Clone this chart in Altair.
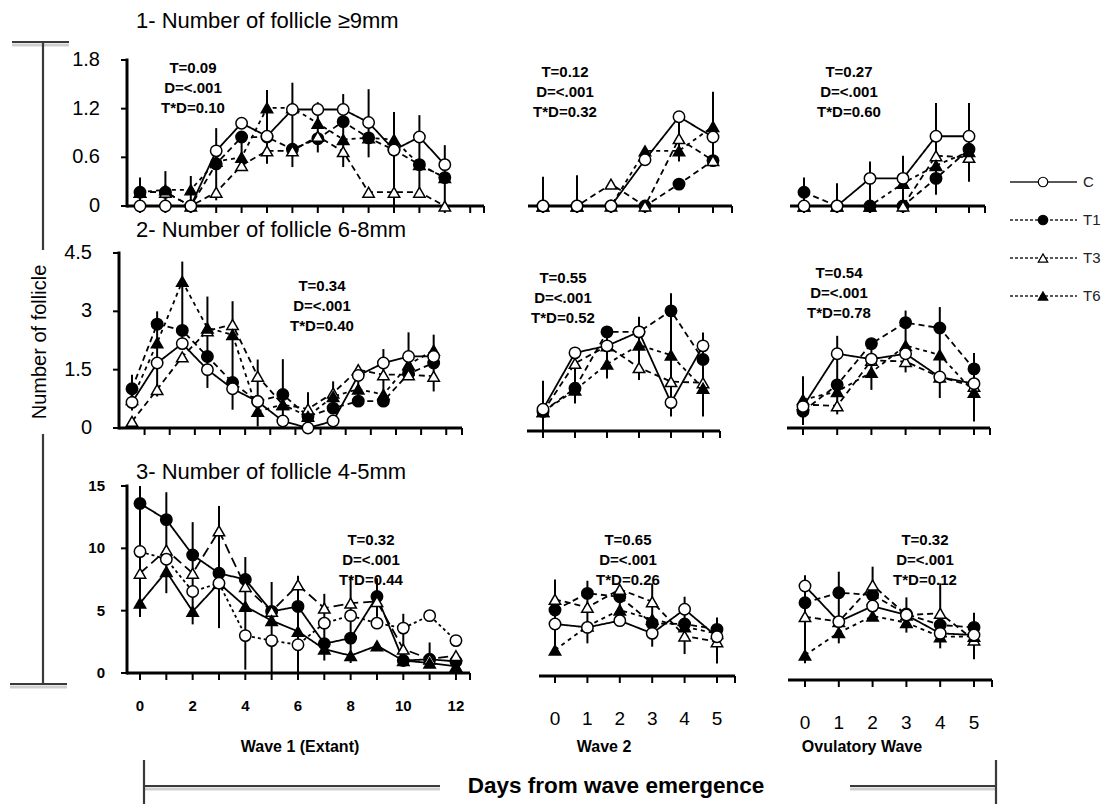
import altair as alt
import pandas as pd

FONT = "Liberation Sans"
W, H = 1105, 804

SERIES = ["C", "T1", "T3", "T6"]
DAYS_W1 = list(range(13))
DAYS_W = list(range(6))

# tick labels
yticks_ge9 = ["0", "0.6", "1.2", "1.8"]
yticks_68 = ["0", "1.5", "3", "4.5"]
yticks_45 = ["0", "5", "10", "15"]
xlabels_w1 = [0, 2, 4, 6, 8, 10, 12]
xlabels_w = [0, 1, 2, 3, 4, 5]

# ---------- 1- Number of follicle >= 9 mm ----------
r1_w1_C = [0, 0, 0, 0.68, 1.02, 0.86, 1.19, 1.19, 1.19, 1.03, 0.69, 0.85, 0.51]
r1_w1_T1 = [0.17, 0.17, 0, 0.52, 0.85, 0.85, 0.70, 0.83, 1.04, 0.84, 0.69, 0.51, 0.35]
r1_w1_T3 = [0.17, 0.17, 0, 0.17, 0.50, 0.68, 0.68, 0.86, 0.67, 0.17, 0.17, 0.17, 0]
r1_w1_T6 = [0.17, 0.20, 0.20, 0.55, 0.60, 1.21, 1.21, 1.02, 0.82, 0.84, 0.82, 0.51, 0.35]
r1_w1_lo = [0, 0, 0, 0.07, 0.47, 0.52, 0.48, 0.66, 0.48, 0.60, 0, 0.17, 0]
r1_w1_hi = [0.35, 0.43, 0.37, 0.96, 0.90, 1.43, 1.52, 1.28, 1.38, 1.44, 1.16, 1.12, 0.75]

r1_w2_C = [0, 0, 0, 0.57, 1.10, 0.85]
r1_w2_T1 = [0, 0, 0, 0, 0.27, 0.56]
r1_w2_T3 = [0, 0, 0.27, 0, 0.83, 0.56]
r1_w2_T6 = [0, 0, 0, 0.68, 0.68, 0.98]
r1_w2_lo = [0, 0, 0, 0, 0.55, 0.56]
r1_w2_hi = [0.36, 0.38, 0, 0, 1.12, 1.41]

r1_ov_C = [0, 0, 0.34, 0.34, 0.86, 0.86]
r1_ov_T1 = [0.17, 0, 0, 0, 0.34, 0.70]
r1_ov_T3 = [0, 0, 0, 0, 0.62, 0.60]
r1_ov_T6 = [0, 0, 0, 0.28, 0.50, 0.67]
r1_ov_lo = [0, 0, 0, 0, 0.14, 0.30]
r1_ov_hi = [0.35, 0.28, 0.55, 0.62, 1.27, 1.27]

# ---------- 2- Number of follicle 6-8 mm ----------
r2_w1_C = [0.66, 1.67, 2.17, 1.50, 1.01, 0.68, 0.18, 0, 0.18, 1.35, 1.67, 1.84, 1.84]
r2_w1_T1 = [1.01, 2.67, 2.51, 1.84, 1.17, 0.68, 0.86, 0.30, 0.51, 0.69, 0.69, 1.40, 1.67]
r2_w1_T3 = [0.17, 0.99, 1.83, 2.50, 2.66, 1.33, 0.60, 0.49, 0.90, 1.50, 1.37, 1.37, 1.33]
r2_w1_T6 = [0.73, 2.19, 3.77, 2.57, 2.40, 0.43, 0.60, 0.30, 0.81, 1.00, 0.86, 1.63, 2.00]
r2_w1_lo = [0.45, 0.81, 2.20, 1.03, 0.47, 0.04, 0.13, 0, 0.47, 0.80, 0.73, 1.33, 0.94]
r2_w1_hi = [1.37, 3.00, 4.28, 3.38, 3.26, 1.76, 1.77, 0.92, 1.20, 1.60, 2.03, 2.46, 2.40]

r2_w2_C = [0.56, 2.01, 2.19, 2.55, 0.73, 2.19]
r2_w2_T1 = [0.50, 1.10, 2.55, 2.55, 3.09, 1.84]
r2_w2_T3 = [0.50, 1.74, 2.19, 1.63, 1.27, 1.24]
r2_w2_T6 = [0.50, 1.05, 1.72, 2.21, 1.95, 1.10]
r2_w2_lo = [0, 0.71, 1.35, 1.31, 0.37, 0.37]
r2_w2_hi = [1.29, 2.10, 2.60, 2.94, 3.54, 2.53]

r2_ov_C = [0.55, 1.91, 1.77, 1.91, 1.31, 1.14]
r2_ov_T1 = [0.43, 1.11, 2.17, 2.71, 2.57, 1.52]
r2_ov_T3 = [0.60, 0.57, 1.74, 1.71, 1.31, 1.07]
r2_ov_T6 = [0.73, 0.94, 1.43, 2.12, 1.88, 0.92]
r2_ov_lo = [0.08, 0.35, 0.98, 1.43, 0.77, 0.17]
r2_ov_hi = [1.33, 2.37, 2.27, 3.02, 3.11, 1.93]

# ---------- 3- Number of follicle 4-5 mm ----------
r3_w1_C = [9.74, 9.13, 6.54, 7.20, 3.00, 2.60, 2.27, 4.00, 4.60, 4.00, 3.60, 4.60, 2.60]
r3_w1_T1 = [13.6, 12.3, 9.47, 8.00, 7.50, 4.94, 5.34, 2.35, 2.80, 6.14, 1.00, 1.10, 0.93]
r3_w1_T3 = [8.00, 9.87, 8.00, 11.4, 6.94, 4.94, 7.07, 5.20, 5.60, 5.74, 1.92, 1.12, 1.39]
r3_w1_T6 = [5.60, 8.14, 4.94, 7.20, 5.34, 4.20, 3.34, 1.92, 1.39, 2.19, 1.00, 0.80, 0.53]
r3_w1_lo = [4.5, 6.4, 3.9, 3.6, 0.27, 0, 0, 1.0, 0.8, 4.5, 0.8, 0.8, 0.5]
r3_w1_hi = [15.0, 14.5, 12.1, 13.4, 9.3, 7.3, 7.8, 6.35, 7.74, 7.6, 4.75, 2.45, 1.6]

r3_w2_C = [4.17, 3.90, 4.44, 3.42, 5.35, 3.15]
r3_w2_T1 = [5.29, 6.63, 6.36, 4.22, 4.17, 3.74]
r3_w2_T3 = [6.15, 5.51, 6.95, 5.96, 3.21, 2.75]
r3_w2_T6 = [2.08, 4.00, 5.29, 4.55, 3.95, 3.40]
r3_w2_lo = [1.70, 2.62, 4.20, 2.35, 1.76, 1.00]
r3_w2_hi = [7.75, 7.64, 7.20, 7.43, 6.36, 4.70]

r3_ov_C = [7.54, 4.68, 5.93, 5.21, 3.74, 3.61]
r3_ov_T1 = [6.20, 7.00, 6.82, 5.29, 4.41, 4.22]
r3_ov_T3 = [5.08, 4.68, 7.62, 5.21, 5.35, 3.21]
r3_ov_T6 = [2.00, 3.80, 5.13, 4.60, 3.47, 3.50]
r3_ov_lo = [1.34, 2.94, 5.35, 3.80, 2.54, 1.66]
r3_ov_hi = [8.40, 8.69, 9.09, 6.63, 7.75, 5.40]

# P-values printed in each panel (treatment, day, interaction)
stat_T = ["0.09", "0.12", "0.27", "0.34", "0.55", "0.54", "0.32", "0.65", "0.32"]
stat_D = ["<.001"] * 9
stat_TD = ["0.10", "0.32", "0.60", "0.40", "0.52", "0.78", "0.44", "0.26", "0.12"]

row_titles = ["1- Number of follicle \u22659mm", "2- Number of follicle 6-8mm",
              "3- Number of follicle 4-5mm"]

# ---------- layout of each panel (pixels) ----------
# axis: start/end of the x axis line, day0: pixel of day 0, step: pixels per day
LAYOUT = [
    dict(axis=(127, 484), day0=140, step=25.4, yr=(206, 60), yt=yticks_ge9, yaxis=True,
         xticks=list(range(14)), stats=(193, 68)),
    dict(axis=(528, 732), day0=543, step=34.0, yr=(206, 60), yt=yticks_ge9,
         xticks=list(range(6)), stats=(565, 72)),
    dict(axis=(790, 985), day0=804, step=33.0, yr=(206, 60), yt=yticks_ge9,
         xticks=list(range(6)), stats=(849, 72)),
    dict(axis=(119, 462), day0=132, step=25.14, yr=(428, 253), yt=yticks_68, yaxis=True,
         xticks=[k + 0.5 for k in range(13)], stats=(322, 286)),
    dict(axis=(527, 720), day0=543, step=32.0, yr=(431, 256), yt=yticks_68,
         xticks=list(range(6)), stats=(563, 278)),
    dict(axis=(787, 990), day0=803, step=34.2, yr=(428, 253), yt=yticks_68,
         xticks=list(range(6)), stats=(839, 273)),
    dict(axis=(127, 470), day0=140, step=26.33, yr=(673, 486), yt=yticks_45, yaxis=True,
         xticks=list(range(13)), stats=(371, 540), xlab=xlabels_w1),
    dict(axis=(539, 735), day0=555, step=32.4, yr=(676, 489), yt=yticks_45,
         xticks=list(range(6)), stats=(628, 540), xlab=xlabels_w),
    dict(axis=(788, 992), day0=805, step=33.8, yr=(680, 493), yt=yticks_45,
         xticks=list(range(6)), stats=(925, 540), xlab=xlabels_w),
]

PANEL_DATA = [
    (DAYS_W1, [r1_w1_C, r1_w1_T1, r1_w1_T3, r1_w1_T6], r1_w1_lo, r1_w1_hi),
    (DAYS_W, [r1_w2_C, r1_w2_T1, r1_w2_T3, r1_w2_T6], r1_w2_lo, r1_w2_hi),
    (DAYS_W, [r1_ov_C, r1_ov_T1, r1_ov_T3, r1_ov_T6], r1_ov_lo, r1_ov_hi),
    (DAYS_W1, [r2_w1_C, r2_w1_T1, r2_w1_T3, r2_w1_T6], r2_w1_lo, r2_w1_hi),
    (DAYS_W, [r2_w2_C, r2_w2_T1, r2_w2_T3, r2_w2_T6], r2_w2_lo, r2_w2_hi),
    (DAYS_W, [r2_ov_C, r2_ov_T1, r2_ov_T3, r2_ov_T6], r2_ov_lo, r2_ov_hi),
    (DAYS_W1, [r3_w1_C, r3_w1_T1, r3_w1_T3, r3_w1_T6], r3_w1_lo, r3_w1_hi),
    (DAYS_W, [r3_w2_C, r3_w2_T1, r3_w2_T3, r3_w2_T6], r3_w2_lo, r3_w2_hi),
    (DAYS_W, [r3_ov_C, r3_ov_T1, r3_ov_T3, r3_ov_T6], r3_ov_lo, r3_ov_hi),
]

DASH_STD = [[1, 0], [6, 4], [6, 4], [4, 4]]
DASH_ALT = [[3, 3], [1, 0], [10, 5], [1, 0]]   # 4-5 mm, first wave
DRAW_ORDER = ["T1", "T3", "T6", "C"]
SHAPE = alt.Scale(domain=SERIES, range=["circle", "circle", "triangle-up", "triangle-up"])
FILL = alt.Scale(domain=SERIES, range=["white", "black", "white", "black"])


def xdom(lay):
    a0, a1 = lay["axis"]
    return [(a0 - lay["day0"]) / lay["step"], (a1 - lay["day0"]) / lay["step"]]


def axis_layers(lay, xs, ys):
    """Axis lines, ticks and labels drawn through the panel's own scales."""
    x0, x1 = xdom(lay)
    ytop = float(lay["yt"][-1])
    out = []
    # x axis line and ticks
    out.append(alt.Chart(pd.DataFrame({"a": [x0], "b": [x1], "y": [0.0]})).mark_rule(
        color="black", strokeWidth=3).encode(
        x=alt.X("a:Q", scale=xs, axis=None), x2="b:Q", y=alt.Y("y:Q", scale=ys, axis=None)))
    ticks = lay["xticks"] + [x1]
    out.append(alt.Chart(pd.DataFrame({"t": ticks, "y": [0.0] * len(ticks)})).mark_tick(
        orient="vertical", size=7, thickness=2, color="black", yOffset=3.5, opacity=1).encode(
        x=alt.X("t:Q", scale=xs, axis=None), y=alt.Y("y:Q", scale=ys, axis=None)))
    if "xlab" in lay:
        wave1 = lay["xlab"] is xlabels_w1
        lab = pd.DataFrame({"t": lay["xlab"], "y": [0.0] * len(lay["xlab"])})
        lab["s"] = lab["t"].astype(str)
        out.append(alt.Chart(lab).mark_text(
            font=FONT, fontSize=15 if wave1 else 19, fontWeight="bold" if wave1 else "normal",
            baseline="middle", align="center", color="black", dy=33 if wave1 else 43).encode(
            x=alt.X("t:Q", scale=xs, axis=None), y=alt.Y("y:Q", scale=ys, axis=None), text="s:N"))
    if lay.get("yaxis"):
        out.append(alt.Chart(pd.DataFrame({"x": [x0], "a": [0.0], "b": [ytop]})).mark_rule(
            color="black", strokeWidth=3, strokeCap="square").encode(
            x=alt.X("x:Q", scale=xs, axis=None), y=alt.Y("a:Q", scale=ys, axis=None), y2="b:Q"))
        yl = pd.DataFrame({"s": lay["yt"], "x": [x0] * 4})
        yl["v"] = yl["s"].astype(float)
        out.append(alt.Chart(yl).mark_tick(
            orient="horizontal", size=6, thickness=2, color="black", xOffset=-3, opacity=1).encode(
            x=alt.X("x:Q", scale=xs, axis=None), y=alt.Y("v:Q", scale=ys, axis=None)))
        big = lay["yt"] is yticks_45
        out.append(alt.Chart(yl).mark_text(
            font=FONT, fontSize=15 if big else 20, fontWeight="bold" if big else "normal",
            align="right", baseline="middle", color="black", dx=-22 if big else -27).encode(
            x=alt.X("x:Q", scale=xs, axis=None), y=alt.Y("v:Q", scale=ys, axis=None), text="s:N"))
    return out


def panel(idx):
    lay = LAYOUT[idx]
    days, means, lo, hi = PANEL_DATA[idx]
    rows = []
    for s in DRAW_ORDER:
        vals = means[SERIES.index(s)]
        for d, v in zip(days, vals):
            rows.append({"day": d, "value": v, "series": s})
    df = pd.DataFrame(rows)
    bars = pd.DataFrame({"day": days, "lo": lo, "hi": hi})

    xs = alt.Scale(domain=xdom(lay), range=list(lay["axis"]), nice=False, zero=False)
    ys = alt.Scale(domain=[0, float(lay["yt"][-1])], range=list(lay["yr"]), nice=False, zero=False)
    dash = DASH_ALT if idx == 6 else DASH_STD

    err = alt.Chart(bars).mark_rule(color="black", strokeWidth=2).encode(
        x=alt.X("day:Q", scale=xs, axis=None),
        y=alt.Y("lo:Q", scale=ys, axis=None),
        y2="hi:Q",
    )
    lines = alt.Chart(df).mark_line(color="black", strokeWidth=1.8).encode(
        x=alt.X("day:Q", scale=xs, axis=None),
        y=alt.Y("value:Q", scale=ys, axis=None),
        strokeDash=alt.StrokeDash("series:N", scale=alt.Scale(domain=SERIES, range=dash), legend=None),
    )
    pts = alt.Chart(df).mark_point(filled=True, stroke="black", strokeWidth=1.5, opacity=1, size=130).encode(
        x=alt.X("day:Q", scale=xs, axis=None),
        y=alt.Y("value:Q", scale=ys, axis=None),
        shape=alt.Shape("series:N", scale=SHAPE, legend=None),
        fill=alt.Fill("series:N", scale=FILL, legend=None),
    )
    return alt.layer(*axis_layers(lay, xs, ys), err, lines, pts)


def text_mark(txt, x, y, size, weight="normal", align="left", angle=0, line_height=None):
    kw = dict(font=FONT, fontSize=size, fontWeight=weight, align=align, baseline="middle",
              color="black", angle=angle)
    if line_height:
        kw.update(lineHeight=line_height, lineBreak="\n")
    return alt.Chart(pd.DataFrame({"t": [txt]})).mark_text(**kw).encode(
        text="t:N", x=alt.value(x), y=alt.value(y))


def seg(x1, y1, x2, y2, color="#3a3a3a", width=2.2):
    return alt.Chart(alt.Data(values=[{}])).mark_rule(color=color, strokeWidth=width).encode(
        x=alt.value(x1), x2=alt.value(x2), y=alt.value(y1), y2=alt.value(y2))


annotations = []
# statistics inside panels
for i, lay in enumerate(LAYOUT):
    sx, sy = lay["stats"]
    txt = f"T={stat_T[i]}\nD={stat_D[i]}\nT*D={stat_TD[i]}"
    annotations.append(text_mark(txt, sx, sy, 15, weight="bold", align="center", line_height=20))

# row titles
for title, ty in zip(row_titles, [21, 230, 472]):
    annotations.append(text_mark(title, 136, ty, 22))

# wave names and shared axis title
annotations += [
    text_mark("Wave 1 (Extant)", 300, 747, 16, weight="bold", align="center"),
    text_mark("Wave 2", 604, 747, 16, weight="bold", align="center"),
    text_mark("Ovulatory  Wave", 862, 747, 16, weight="bold", align="center"),
    text_mark("Days from wave  emergence", 616, 786, 22.5, weight="bold", align="center"),
    text_mark("Number of follicle", 40, 342, 20, align="center", angle=270),
]

# brackets framing the y title and the x title
brackets = [
    seg(12, 45, 69, 45, color="#cfcfcf", width=3),
    seg(10, 687, 67, 687, color="#cfcfcf", width=3),
    seg(144, 789, 440, 789, color="#cfcfcf", width=3),
    seg(850, 789, 996, 789, color="#cfcfcf", width=3),
    seg(43, 42, 43, 250),
    seg(43, 434, 43, 684),
    seg(12, 42, 69, 42),
    seg(10, 684, 67, 684),
    seg(144, 760, 144, 804),
    seg(996, 760, 996, 804),
    seg(144, 786, 440, 786),
    seg(850, 786, 996, 786),
]

# legend
leg_df = pd.DataFrame({"series": SERIES, "slot": [0, 1, 2, 3]})
ly = alt.Y("slot:Q", scale=alt.Scale(domain=[0, 3], range=[182, 296]), axis=None)
leg_rule = alt.Chart(leg_df).mark_rule(color="#222", strokeWidth=1.3).encode(
    x=alt.value(1010), x2=alt.value(1077), y=ly,
    strokeDash=alt.StrokeDash("series:N", scale=alt.Scale(domain=SERIES, range=[[1, 0], [3, 2], [3, 2], [3, 2]]),
                              legend=None),
)
leg_pts = alt.Chart(leg_df).mark_point(filled=True, stroke="black", strokeWidth=1.2, opacity=1, size=90).encode(
    x=alt.value(1043), y=ly,
    shape=alt.Shape("series:N", scale=SHAPE, legend=None),
    fill=alt.Fill("series:N", scale=FILL, legend=None),
)
leg_txt = alt.Chart(leg_df).mark_text(font=FONT, fontSize=15, align="left", baseline="middle", color="#222").encode(
    x=alt.value(1083), y=ly, text="series:N")
legend = alt.layer(leg_rule, leg_pts, leg_txt)

panels = [panel(i) for i in range(9)]

chart = alt.layer(*annotations, *brackets, *panels, legend).resolve_scale(
    x="independent", y="independent", strokeDash="independent", shape="independent", fill="independent"
).properties(
    width=W, height=H, padding=0, autosize=alt.AutoSizeParams(type="none"), background="white"
).configure_view(stroke=None)

chart.save("out.html", embed_options={"renderer": "svg", "actions": False})
